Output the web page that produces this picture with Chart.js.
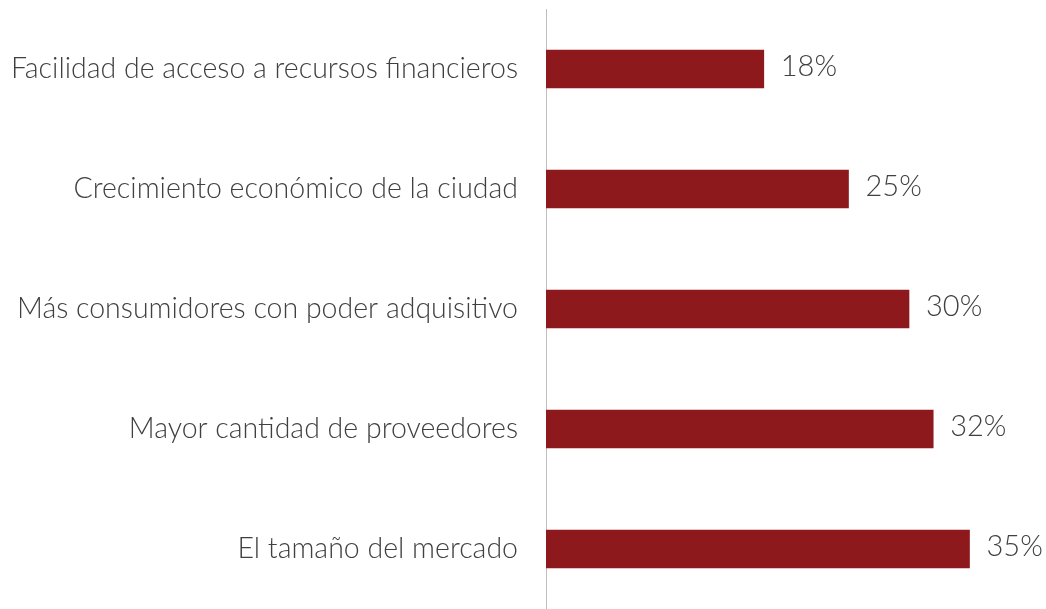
<!DOCTYPE html>
<html>
<head>
<meta charset="utf-8">
<script src="https://cdn.jsdelivr.net/npm/chart.js@4"></script>
<style>
  html, body { margin: 0; padding: 0; background: #fff; }
  #wrap { width: 1046px; height: 609px; }
</style>
</head>
<body>
<div id="wrap"><canvas id="c" width="1046" height="609"></canvas></div>
<script>
const categories = [
  'Facilidad de acceso a recursos financieros',
  'Crecimiento económico de la ciudad',
  'Más consumidores con poder adquisitivo',
  'Mayor cantidad de proveedores',
  'El tamaño del mercado'
];
const values = [18, 25, 30, 32, 35];

const FONT = "Lato, 'Open Sans', sans-serif";

// etiquetas de valor al final de cada barra
const valueLabels = {
  id: 'valueLabels',
  afterDatasetsDraw(chart) {
    const ctx = chart.ctx;
    const meta = chart.getDatasetMeta(0);
    ctx.save();
    ctx.font = '300 29px ' + FONT;
    ctx.fillStyle = '#404040';
    ctx.textAlign = 'left';
    ctx.textBaseline = 'middle';
    meta.data.forEach((bar, i) => {
      ctx.fillText(values[i] + '%', bar.x + 17, bar.y - 2);
    });
    ctx.restore();
  }
};

new Chart(document.getElementById('c'), {
  type: 'bar',
  data: {
    labels: categories,
    datasets: [{
      data: values,
      backgroundColor: '#8E191D',
      borderWidth: 0,
      barThickness: 38,
    }],
  },
  options: {
    indexAxis: 'y',
    responsive: false,
    animation: false,
    layout: { padding: { top: 9, bottom: 0, right: 16, left: 0 } },
    plugins: {
      legend: { display: false },
      tooltip: { enabled: false },
    },
    scales: {
      x: { display: false, min: 0, max: 40 },
      y: {
        grid: { display: false, drawTicks: false },
        border: { display: true, color: '#BFBFBF', width: 1 },
        ticks: {
          color: '#404040',
          padding: 28,
          font: { family: FONT, size: 28.5, weight: 300 },
        },
        afterFit(scale) {
          scale.width = 546;
          scale.paddingTop = 0;
          scale.paddingBottom = 0;
        },
      },
    },
  },
  plugins: [valueLabels],
});
</script>
</body>
</html>
